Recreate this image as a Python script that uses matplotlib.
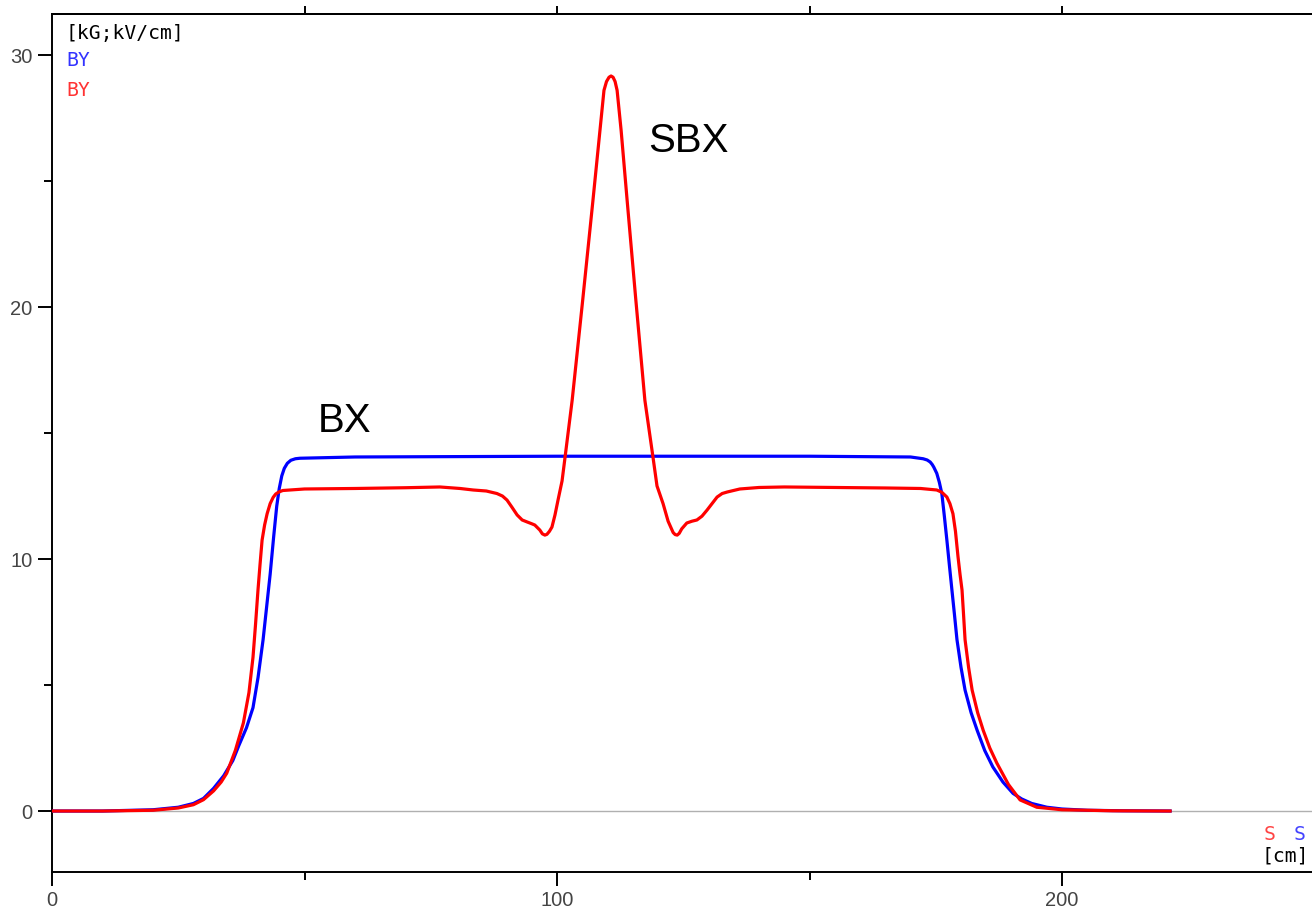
import numpy as np
import matplotlib
matplotlib.use("Agg")
import matplotlib.pyplot as plt
from matplotlib.ticker import MultipleLocator

## field profiles along the beam line, s in cm, field in kG
bx_s = [0, 10, 20, 25, 28, 30, 32, 34, 35.8, 37, 38.5, 39.8, 40.8, 41.8, 42.5,
        43.2, 43.9, 44.5, 45.0, 45.5, 46.0, 46.6, 47.3, 48.2, 49.1, 60, 100,
        150, 170, 172.5, 173.3, 173.9, 174.3, 174.6, 175.2, 175.7, 176.2,
        176.7, 177.2, 177.7, 178.2, 178.7, 179.2, 180.0, 180.8, 182.0, 183.2,
        184.7, 186.3, 188.3, 190.3, 192, 194, 197, 200, 205, 212, 221.4]
bx_val = [0.0, 0.0, 0.05, 0.15, 0.3, 0.5, 0.9, 1.4, 2.0, 2.6, 3.3, 4.1, 5.3,
          6.8, 8.1, 9.4, 10.9, 12.1, 12.8, 13.3, 13.6, 13.8, 13.92, 13.98,
          14.0, 14.05, 14.08, 14.08, 14.05, 13.98, 13.93, 13.85, 13.75, 13.65,
          13.4, 13.05, 12.6, 11.7, 10.75, 9.75, 8.77, 7.8, 6.8, 5.7, 4.8, 3.9,
          3.2, 2.4, 1.75, 1.15, 0.7, 0.48, 0.3, 0.15, 0.08, 0.03, 0.01, 0.0]

sbx_s = [0, 10, 20, 25, 28, 30, 32, 33.5, 34.6, 36.3, 37.9, 39.0, 39.8, 40.3,
         40.8, 41.2, 41.6, 42.1, 42.6, 43.2, 43.8, 44.3, 44.9, 45.7, 50, 60,
         70, 76.8, 80.8, 83.4, 86, 88.1, 89.2, 90.1, 91.1, 92.1, 93.1, 94.1,
         95.0, 95.6, 96.6, 97.1, 97.6, 98.0, 98.5, 99.0, 99.6, 100.2, 101.0,
         101.6, 103.0, 105.1, 107.1, 108.5, 109.3, 109.8, 110.3, 110.7, 111.1,
         111.5, 111.9, 112.7, 113.9, 115.6, 117.4, 119.0, 119.8, 121.0, 122.0,
         123.0, 123.4, 123.8, 124.2, 124.7, 125.7, 126.7, 127.7, 128.7, 129.7,
         130.7, 131.7, 132.7, 133.7, 136.2, 140, 145, 155, 165, 172, 175.2,
         176.2, 177.2, 177.8, 178.4, 178.9, 179.4, 179.8, 180.2, 180.5, 180.8,
         181.5, 182.2, 183.3, 184.4, 185.7, 187.1, 189.4, 191.7, 195, 200, 210,
         221.4]
sbx_val = [0.0, 0.0, 0.03, 0.12, 0.25, 0.45, 0.8, 1.15, 1.5, 2.4, 3.5, 4.7,
           6.1, 7.4, 8.8, 9.8, 10.75, 11.35, 11.8, 12.2, 12.45, 12.58, 12.66,
           12.72, 12.78, 12.8, 12.83, 12.86, 12.8, 12.74, 12.7, 12.6, 12.5,
           12.34, 12.05, 11.75, 11.55, 11.47, 11.4, 11.35, 11.15, 11.0, 10.95,
           10.98, 11.1, 11.27, 11.75, 12.34, 13.1, 14.05, 16.3, 20.3, 24.2,
           27.0, 28.6, 28.95, 29.12, 29.17, 29.12, 28.95, 28.6, 27.0, 24.2,
           20.3, 16.3, 14.05, 12.9, 12.2, 11.5, 11.05, 10.97, 10.95, 11.02,
           11.2, 11.43, 11.5, 11.55, 11.7, 11.94, 12.2, 12.46, 12.6, 12.66,
           12.78, 12.84, 12.86, 12.84, 12.82, 12.8, 12.74, 12.65, 12.46, 12.2,
           11.8, 11.1, 10.1, 9.4, 8.77, 7.8, 6.8, 5.7, 4.8, 3.9, 3.2, 2.5,
           1.9, 1.05, 0.44, 0.15, 0.05, 0.01, 0.0]

x_major = [0, 100, 200]
x_minor = [50, 150]
x_top = [50, 100, 150, 200]
y_major = [0, 10, 20, 30]

fig = plt.figure(figsize=(13.12, 9.08), dpi=100)
ax = fig.add_axes([52 / 1312, 36 / 908, 1260 / 1312, 858 / 908])

ax.axhline(0, color="#b0b0b0", lw=1.0, zorder=1)
ax.plot(bx_s, bx_val, color="#0000ff", lw=2.3, zorder=3,
        solid_joinstyle="round")
ax.plot(sbx_s, sbx_val, color="#ff0000", lw=2.3, zorder=4,
        solid_joinstyle="round")

ax.set_xlim(0, 249.5)
ax.set_ylim(-2.42, 31.63)

ax.spines["right"].set_visible(False)
for side in ("left", "bottom", "top"):
    ax.spines[side].set_linewidth(1.4)

ax.set_xticks(x_major)
ax.set_xticks(x_minor, minor=True)
ax.set_yticks(y_major)
ax.yaxis.set_minor_locator(MultipleLocator(5))
ax.tick_params(which="major", direction="out", length=10, width=1.4,
               labelsize=14.5, labelcolor="#444444", pad=4)
ax.tick_params(which="minor", direction="out", length=6, width=1.4)
for lab in ax.get_xticklabels() + ax.get_yticklabels():
    lab.set_family("Liberation Sans")

# the top edge carries short unlabelled ticks
top = ax.secondary_xaxis("top")
top.set_xticks(x_top)
top.tick_params(direction="out", length=6, width=1.4, labeltop=False)
top.spines["top"].set_linewidth(1.4)

ax.text(52.7, 15.04, "BX", fontsize=29, family="Liberation Sans",
        color="black", va="baseline")
ax.text(118.0, 26.15, "SBX", fontsize=29, family="Liberation Sans",
        color="black", va="baseline")

mono = "DejaVu Sans Mono"
fig.text(66 / 1312, 1 - 39 / 908, "[kG;kV/cm]", fontsize=14.2, family=mono,
         color="black", va="baseline")
fig.text(66 / 1312, 1 - 66 / 908, "BY", fontsize=14.2, family=mono,
         color="#3333ff", va="baseline")
fig.text(66 / 1312, 1 - 96 / 908, "BY", fontsize=14.2, family=mono,
         color="#ff3333", va="baseline")
fig.text(1264 / 1312, 1 - 840 / 908, "S", fontsize=14.2, family=mono,
         color="#ff4444", va="baseline")
fig.text(1294 / 1312, 1 - 840 / 908, "S", fontsize=14.2, family=mono,
         color="#4444ff", va="baseline")
fig.text(1262 / 1312, 1 - 862 / 908, "[cm]", fontsize=14.2, family=mono,
         color="black", va="baseline")

fig.savefig("out.png", dpi=100)
